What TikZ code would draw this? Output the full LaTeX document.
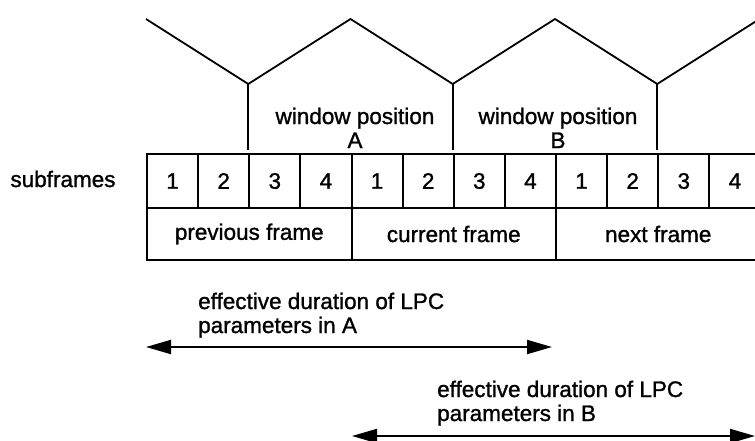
\documentclass[tikz,border=0pt]{standalone}
\usepackage{fontspec}
\setmainfont{Liberation Sans}[BoldFont=Liberation Sans, BoldFeatures={FakeBold=1.2}]
\usetikzlibrary{arrows.meta}
\begin{document}
\begin{tikzpicture}[x=1pt,y=-1pt,
  every node/.style={font=\bfseries\fontsize{22.5}{24}\selectfont, inner sep=0pt},
  cellbox/.style={draw, line width=2pt, minimum width=51.125pt, minimum height=54pt, anchor=north west},
  framebox/.style={draw, line width=2pt, minimum width=204.5pt, minimum height=52pt, anchor=north west},
  wline/.style={line width=1.8pt, line join=miter},
  dur/.style={line width=2pt, {Triangle[length=25pt,width=14pt]}-{Triangle[length=25pt,width=14pt]}},
  lbl/.style={align=left, anchor=base west},
  wlbl/.style={align=center, anchor=base}
]
\clip (0,0) rectangle (755,440);
% windows
\draw[wline] (146,19) -- (248.25,84) -- (350.5,19) -- (452.75,84) -- (555,19) -- (657.25,84) -- (759.5,19);
\draw[wline] (248.25,84) -- (248.25,150);
\draw[wline] (452.75,84) -- (452.75,150);
\draw[wline] (657.25,84) -- (657.25,150);
\node[wlbl] (winA) at (355,148) {window position\\A};
\node[wlbl] (winB) at (558,148) {window position\\B};
% subframes
\node (sub) at (63,179) {subframes};
\foreach \i in {0,...,11}{
  \pgfmathtruncatemacro\d{mod(\i,4)+1}
  \node[cellbox] (s\i) at ({146+51.125*\i},153) {\d};
}
\node[framebox] (f1) at (146,207) {previous frame};
\node[framebox] (f2) at (350.5,207) {current frame};
\node[framebox] (f3) at (555,207) {next frame};
% durations
\node[lbl] (durA) at (198,333) {effective duration of LPC\\parameters in A};
\coordinate (aL) at (146,347);
\coordinate (aR) at (552,347);
\draw[dur] (aL) -- (aR);
\node[lbl] (durB) at (437,421) {effective duration of LPC\\parameters in B};
\coordinate (bL) at (352,436);
\coordinate (bR) at (755,436);
\draw[dur] (bL) -- (bR);
\end{tikzpicture}
\end{document}
